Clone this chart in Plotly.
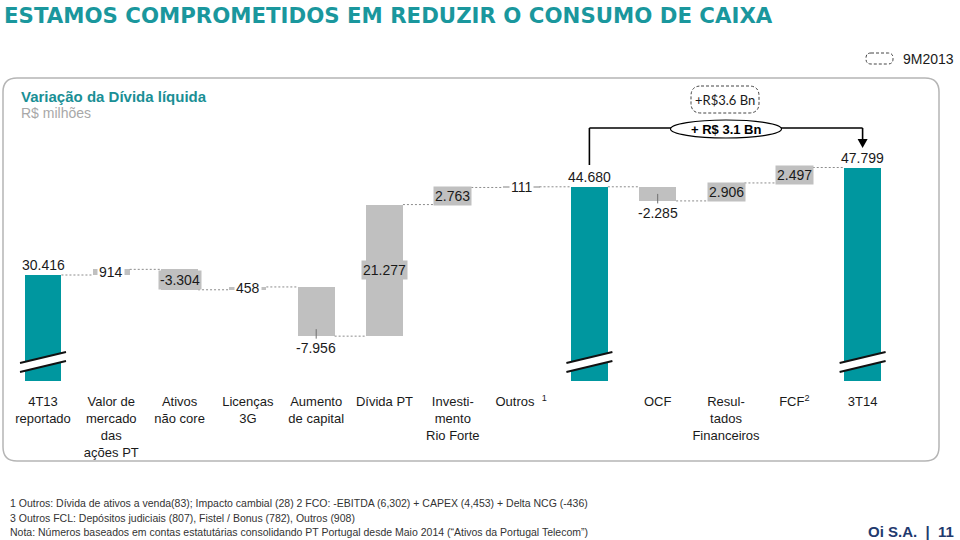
import plotly.graph_objects as go

# ---------------- data ----------------
categories = ["4T13<br>reportado", "Valor de<br>mercado<br>das<br>ações PT", "Ativos<br>não core",
              "Licenças<br>3G", "Aumento<br>de capital", "Dívida PT",
              "Investi-<br>mento<br>Rio Forte", "Outros  <sup>1</sup>", "", "OCF",
              "Resul-<br>tados<br>Financeiros", "FCF<sup>2</sup>", "3T14"]
measures = ["total", "delta", "delta", "delta", "delta", "delta", "delta", "delta",
            "total", "delta", "delta", "delta", "total"]
values = [30416, 914, -3304, 458, -7956, 21277, 2763, 111, 44680, -2285, 2906, 2497, 47799]
value_labels = ["30.416", "914", "-3.304", "458", "-7.956", "21.277", "2.763", "111",
                "44.680", "-2.285", "2.906", "2.497", "47.799"]
footnotes = [
    "1 Outros: Dívida de ativos a venda(83); Impacto cambial (28) 2 FCO: -EBITDA (6,302) + CAPEX (4,453) + Delta NCG (-436)",
    "3 Outros FCL: Depósitos judiciais (807), Fistel / Bonus (782), Outros (908)",
    "Nota: Números baseados em contas estatutárias consolidando PT Portugal desde Maio 2014 (“Ativos da Portugal Telecom”)",
]
title = "ESTAMOS COMPROMETIDOS EM REDUZIR O CONSUMO DE CAIXA"
subtitle = "Variação da Dívida líquida"
unit = "R$ milhões"
bracket_label = "+ R$ 3.1 Bn"
prior_label = "+R$3.6 Bn"
legend_label = "9M2013"

# ---------------- style ----------------
W, H = 960, 540
TEAL = "#00979f"
GRAY = "#c0c0c0"
FONT = "Liberation Sans, Arial, sans-serif"
# label placement per bar: above / gray box / white box / below with leader
LABEL_MODE = ["above", "white", "gray", "white", "below", "gray", "gray", "white",
              "above", "below", "gray", "gray", "above"]
BAR_W = 0.54
X0_PX, DX_PX = 43, 68.3          # pixel of first category, spacing
PLOT_BOTTOM_PX = 381            # broken axis bottom
Y_BOTTOM = 13275
PX_PER_UNIT = 0.006184
Y_TOP = Y_BOTTOM + PLOT_BOTTOM_PX / PX_PER_UNIT


def X(p):
    return p / W


def Y(p):
    return 1 - p / H


# ---------------- waterfall geometry ----------------
bases, heights, colors, levels = [], [], [], []
level = 0
for m, v in zip(measures, values):
    if m == "total":
        bases.append(0)
        heights.append(v)
        colors.append(TEAL)
        level = v
    else:
        bases.append(level)
        heights.append(v)
        colors.append(GRAY)
        level += v
    levels.append(level)

xs = list(range(len(values)))

fig = go.Figure()
fig.add_trace(go.Bar(x=xs, y=heights, base=bases, width=BAR_W,
                     marker=dict(color=colors, line=dict(width=0)),
                     hoverinfo="skip", showlegend=False))

# connectors
cx, cy = [], []
for i in range(len(values) - 1):
    cx += [i + BAR_W / 2, i + 1 - BAR_W / 2, None]
    cy += [levels[i], levels[i], None]
fig.add_trace(go.Scatter(x=cx, y=cy, mode="lines",
                         line=dict(color="#8c8c8c", width=1, dash="2px,2px"),
                         hoverinfo="skip", showlegend=False))

ann = []
for i, (lab, mode) in enumerate(zip(value_labels, LABEL_MODE)):
    top = max(bases[i], bases[i] + heights[i])
    bottom = min(bases[i], bases[i] + heights[i])
    mid = bases[i] + heights[i] / 2
    f = dict(family=FONT, size=14, color="#1a1a1a")
    if mode == "above":
        ann.append(dict(x=i, y=top, text=lab, showarrow=False, yanchor="bottom",
                        font=f, yshift=0))
    elif mode in ("gray", "white"):
        ann.append(dict(x=i, y=mid, text=lab, showarrow=False,
                        bgcolor=GRAY if mode == "gray" else "white", borderpad=1, font=f))
    else:
        ann.append(dict(x=i, y=bottom + 7 / PX_PER_UNIT, text=lab, showarrow=True,
                        arrowhead=0, arrowwidth=1, arrowcolor="#6e6e6e",
                        ax=0, ay=19, font=f))

# title & headers
ann.append(dict(x=X(2), y=Y(15), xref="paper", yref="paper", xanchor="left", yanchor="middle",
                text="<b>" + title + "</b>", showarrow=False,
                font=dict(family="DejaVu Sans, sans-serif", size=21.3, color="#1a979d")))
ann.append(dict(x=X(19), y=Y(96), xref="paper", yref="paper", xanchor="left", yanchor="middle",
                text="<b>" + subtitle + "</b>", showarrow=False,
                font=dict(family=FONT, size=15, color="#1a8f95")))
ann.append(dict(x=X(19), y=Y(113), xref="paper", yref="paper", xanchor="left", yanchor="middle",
                text=unit, showarrow=False, font=dict(family=FONT, size=14, color="#a8a8a8")))
ann.append(dict(x=X(901), y=Y(59), xref="paper", yref="paper", xanchor="left", yanchor="middle",
                text=legend_label, showarrow=False, font=dict(family=FONT, size=14, color="#1a1a1a")))
ann.append(dict(x=X(725), y=Y(100), xref="paper", yref="paper", xanchor="center", yanchor="middle",
                text=prior_label, showarrow=False, font=dict(family="Lato, sans-serif", size=13, color="#1a1a1a")))
ann.append(dict(x=10, y=Y(129), xref="x", yref="paper", xanchor="center", yanchor="middle",
                text="<b>" + bracket_label + "</b>", showarrow=False,
                font=dict(family=FONT, size=13, color="#000000")))

for j, line in enumerate(footnotes):
    ann.append(dict(x=X(8), y=Y(503 + 14.5 * j), xref="paper", yref="paper", xanchor="left",
                    yanchor="middle", text=line, showarrow=False,
                    font=dict(family=FONT, size=10.5, color="#333333")))
ann.append(dict(x=X(956), y=Y(531), xref="paper", yref="paper", xanchor="right", yanchor="middle",
                text="<b>Oi S.A.  |  11</b>", showarrow=False,
                font=dict(family=FONT, size=15, color="#1f3a6e")))

shapes = []


def rrect(x0, y0, x1, y1, r):
    return (f"M {X(x0 + r)},{Y(y0)} L {X(x1 - r)},{Y(y0)} Q {X(x1)},{Y(y0)} {X(x1)},{Y(y0 + r)} "
            f"L {X(x1)},{Y(y1 - r)} Q {X(x1)},{Y(y1)} {X(x1 - r)},{Y(y1)} "
            f"L {X(x0 + r)},{Y(y1)} Q {X(x0)},{Y(y1)} {X(x0)},{Y(y1 - r)} "
            f"L {X(x0)},{Y(y0 + r)} Q {X(x0)},{Y(y0)} {X(x0 + r)},{Y(y0)} Z")


# panel
shapes.append(dict(type="path", xref="paper", yref="paper", path=rrect(3, 78, 939, 461, 14),
                   line=dict(color="#b5b5b5", width=1.5), layer="below"))
# legend icon & prior-year box
shapes.append(dict(type="path", xref="paper", yref="paper", path=rrect(866, 53, 893, 64, 5),
                   line=dict(color="#444444", width=1, dash="3px,2px")))
shapes.append(dict(type="path", xref="paper", yref="paper", path=rrect(691, 86, 759, 113, 10),
                   line=dict(color="#444444", width=1, dash="3px,2px")))

# axis-break marks on totals
bdx = 23 / DX_PX
for i, m in enumerate(measures):
    if m != "total":
        continue
    shapes.append(dict(type="path", xref="x", yref="paper",
                       path=f"M {i - bdx},{Y(363)} L {i + bdx},{Y(352)} L {i + bdx},{Y(361)} L {i - bdx},{Y(372)} Z",
                       fillcolor="white", line=dict(width=0)))
    for yy in (0, 9):
        shapes.append(dict(type="line", xref="x", yref="paper", x0=i - bdx, x1=i + bdx,
                           y0=Y(363 + yy), y1=Y(352 + yy), line=dict(color="#111111", width=1.8)))

# bracket between subtotal and final total
i_sub = 8
i_end = len(values) - 1
blk = dict(color="#000000", width=1.6)
shapes.append(dict(type="line", xref="x", yref="paper", x0=i_sub, x1=i_sub, y0=Y(165), y1=Y(128), line=blk))
shapes.append(dict(type="line", xref="x", yref="paper", x0=i_sub, x1=i_end, y0=Y(128), y1=Y(128), line=blk))
shapes.append(dict(type="line", xref="x", yref="paper", x0=i_end, x1=i_end, y0=Y(128), y1=Y(140), line=blk))
ah = 5 / DX_PX
shapes.append(dict(type="path", xref="x", yref="paper",
                   path=f"M {i_end - ah},{Y(139)} L {i_end + ah},{Y(139)} L {i_end},{Y(148)} Z",
                   fillcolor="#000000", line=dict(width=0)))
ew = 55.5 / DX_PX
shapes.append(dict(type="circle", xref="x", yref="paper", x0=10 - ew, x1=10 + ew, y0=Y(138), y1=Y(120),
                   fillcolor="white", line=dict(color="#000000", width=1.2)))

fig.update_layout(
    width=W, height=H, margin=dict(l=0, r=0, t=0, b=0),
    paper_bgcolor="white", plot_bgcolor="white",
    bargap=0, showlegend=False,
    annotations=ann, shapes=shapes,
    xaxis=dict(range=[-X0_PX / DX_PX, (W - X0_PX) / DX_PX], domain=[0, 1],
               tickmode="array", tickvals=xs, ticktext=categories,
               tickfont=dict(family=FONT, size=13, color="#1a1a1a"),
               showgrid=False, zeroline=False, showline=False, ticks="",
               ticklabelstandoff=11, fixedrange=True),
    yaxis=dict(range=[Y_BOTTOM, Y_TOP], domain=[1 - PLOT_BOTTOM_PX / H, 1],
               visible=False, showgrid=False, zeroline=False, fixedrange=True),
)

fig.write_html("out.html", config={"displayModeBar": False},
               post_script="document.body.style.margin='0';document.body.style.padding='0';"
                           "document.body.style.overflow='hidden';")
